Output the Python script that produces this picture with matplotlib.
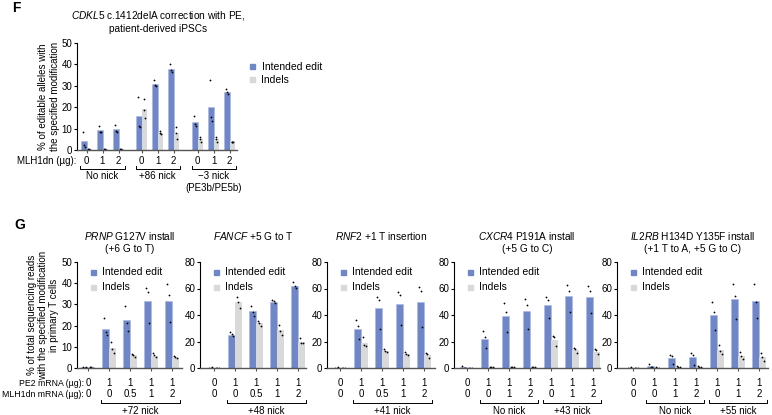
import numpy as np
import matplotlib
matplotlib.use("Agg")
import matplotlib.pyplot as plt

plt.rcParams['font.family'] = ['Liberation Sans', 'DejaVu Sans']
plt.rcParams['mathtext.fontset'] = 'custom'
plt.rcParams['mathtext.rm'] = 'Liberation Sans'
plt.rcParams['mathtext.it'] = 'Liberation Sans:italic'

BLUE = '#6f86c9'
GRAY = '#d9d9d9'

# ---- panel F data: CDKL5 correction in iPSCs ----
f_mlh = ['0', '1', '2', '0', '1', '2', '0', '1', '2']
f_groups = ['No nick', '+86 nick', '\u22123 nick\n(PE3b/PE5b)']
f_edit = [4.0, 9.3, 10.0, 15.8, 31.0, 38.0, 13.0, 20.3, 27.3]
f_indel = [0.3, 0.3, 0.3, 19.0, 8.0, 8.0, 5.0, 5.0, 4.0]
f_edit_pts = [[8.3, 2.5, 1.2], [11.2, 8.5, 8.3], [11.7, 9.0, 8.6],
              [25.0, 11.2, 10.8], [32.5, 30.5, 30.0], [40.2, 37.5, 36.3],
              [16.0, 12.0, 11.0], [32.5, 15.3, 13.4], [28.4, 26.9, 26.2]]
f_indel_pts = [[0.4, 0.3, 0.2], [0.4, 0.3, 0.2], [0.4, 0.3, 0.2],
               [23.7, 18.7, 14.8], [9.0, 7.8, 7.5], [10.6, 7.8, 5.0],
               [6.2, 5.0, 3.9], [6.2, 5.0, 3.6], [3.9, 3.6, 3.8]]

# ---- panel G data: primary T cells ----
prnp_pe2 = ['0', '1', '1', '1', '1']
prnp_mlh = ['0', '0', '0.5', '1', '2']
prnp_edit = [0.3, 18.6, 22.5, 31.5, 31.8]
prnp_indel = [0.3, 9.3, 6.1, 5.8, 4.9]
prnp_edit_pts = [[0.3, 0.2, 0.4], [23.4, 17.1, 15.6], [29.2, 21.0, 17.3],
                 [37.6, 35.7, 21.4], [39.5, 34.4, 21.5]]
prnp_indel_pts = [[0.3, 0.3, 0.2], [12.4, 8.8, 6.9], [6.8, 6.1, 5.3],
                  [6.9, 6.1, 5.2], [5.7, 5.0, 4.6]]

fancf_pe2 = ['0', '1', '1', '1', '1']
fancf_mlh = ['0', '0', '0.5', '1', '2']
fancf_edit = [0.3, 24.9, 43.0, 50.0, 62.0]
fancf_indel = [0.3, 49.6, 33.7, 28.7, 19.9]
fancf_edit_pts = [[0.3, 0.2, 0.4], [26.9, 25.4, 23.9], [47.0, 42.0, 39.2],
                  [51.3, 50.3, 49.3], [65.2, 62.1, 60.1]]
fancf_indel_pts = [[0.3, 0.2, 0.3], [53.3, 49.6, 45.0], [35.5, 33.7, 31.9],
                   [32.5, 27.9, 24.9], [22.9, 18.6, 18.6]]

rnf2_pe2 = ['0', '1', '1', '1', '1']
rnf2_mlh = ['0', '0', '0.5', '1', '2']
rnf2_edit = [0.3, 29.4, 45.0, 48.0, 50.0]
rnf2_indel = [0.3, 19.1, 12.8, 10.8, 9.8]
rnf2_edit_pts = [[0.3, 0.2, 0.4], [36.2, 31.7, 21.6], [53.8, 51.3, 29.4],
                 [57.6, 55.1, 32.5], [60.9, 58.4, 31.2]]
rnf2_indel_pts = [[0.3, 0.2, 0.3], [23.6, 17.4, 16.9], [14.3, 12.8, 11.8],
                  [12.3, 10.8, 9.8], [11.1, 10.6, 7.8]]

cxcr4_pe2 = ['0', '1', '1', '1', '1', '1', '1']
cxcr4_mlh = ['0', '0', '1', '2', '0', '1', '2']
cxcr4_edit = [0.5, 21.9, 39.5, 43.0, 47.5, 54.3, 53.6]
cxcr4_indel = [0.3, 0.5, 0.5, 0.5, 21.1, 13.6, 11.8]
cxcr4_edit_pts = [[1.3, 0.2, 0.2], [27.9, 23.1, 15.3], [48.8, 42.5, 27.4],
                  [52.0, 47.6, 29.4], [53.8, 51.6, 38.0], [62.6, 58.4, 42.5],
                  [61.9, 58.1, 41.5]]
cxcr4_indel_pts = [[0.3, 0.2, 0.3], [0.7, 0.6, 0.5], [0.7, 0.5, 0.5],
                   [0.7, 0.6, 0.5], [23.9, 23.1, 16.9], [15.3, 14.3, 11.3],
                   [14.3, 13.6, 10.6]]

il2rb_pe2 = ['0', '1', '1', '1', '1', '1', '1']
il2rb_mlh = ['0', '0', '1', '2', '0', '1', '2']
il2rb_edit = [0.3, 1.5, 7.5, 8.3, 40.0, 52.0, 50.6]
il2rb_indel = [0.3, 0.3, 1.0, 1.0, 13.6, 9.0, 8.3]
il2rb_edit_pts = [[0.3, 0.2, 0.4], [3.3, 0.8, 0.5], [10.0, 9.0, 3.0],
                  [11.1, 9.8, 2.5], [49.6, 42.0, 28.7], [63.4, 54.6, 36.7],
                  [63.4, 50.0, 38.0]]
il2rb_indel_pts = [[0.3, 0.2, 0.3], [0.4, 0.3, 0.3], [1.2, 1.0, 0.8],
                   [1.2, 1.0, 0.8], [17.4, 12.8, 10.3], [12.1, 9.1, 6.5],
                   [11.1, 8.1, 5.5]]

W, H = 772, 415
fig = plt.figure(figsize=(W / 100, H / 100), dpi=100)
FS = 7


def ax_px(l, t, r, b):
    return fig.add_axes([l / W, 1 - b / H, (r - l) / W, (b - t) / H])


def ftext(x, y, s, **kw):
    kw.setdefault('fontsize', FS)
    return fig.text(x / W, 1 - y / H, s, **kw)


def style(ax, ymax, step):
    ax.set_ylim(0, ymax)
    ax.set_yticks(np.arange(0, ymax + 1, step))
    for side in ['top', 'right']:
        ax.spines[side].set_visible(False)
    ax.spines['left'].set_linewidth(0.8)
    ax.spines['bottom'].set_linewidth(1.0)
    ax.spines['bottom'].set_color('#555555')
    ax.tick_params(axis='both', length=2.5, width=0.8, labelsize=FS, pad=0.8)
    ax.tick_params(axis='x', labelbottom=False, color='#555555')


def draw_bars(ax, pos, edit, indel, edit_pts, indel_pts, w):
    pos = np.asarray(pos)
    ax.bar(pos - w / 2, edit, width=w, color=BLUE, edgecolor='#a9b8e6', linewidth=0.4)
    ax.bar(pos + w / 2, indel, width=w, color=GRAY, linewidth=0)
    offs = np.array([-0.05, 0.0, 0.05])
    for p, ep, ip in zip(pos, edit_pts, indel_pts):
        ax.plot(p - w / 2 + offs, ep, 'o', ms=1.3, color='black', mew=0)
        ax.plot(p + w / 2 + offs, ip, 'o', ms=1.3, color='black', mew=0)
    ax.set_xticks(pos)


def bracket(ax, x0, x1, y, d=0.03):
    ax.plot([x0, x0, x1, x1], [y + d, y, y, y + d], color='black', lw=0.7,
            transform=ax.get_xaxis_transform(), clip_on=False)


def legend(ax, x0_px, y1_px, y2_px):
    for y, c, s in [(y1_px, BLUE, 'Intended edit'), (y2_px, GRAY, 'Indels')]:
        fig.patches.append(plt.Rectangle(((x0_px - 2.5) / W, 1 - (y + 2.5) / H), 5 / W, 5 / H,
                                         transform=fig.transFigure, color=c))
        ftext(x0_px + 9, y, s, fontsize=7.5, va='center', ha='left')


# ================= Panel F =================
ftext(12, 8, 'F', fontsize=10, fontweight='bold', va='center', ha='left')
ftext(158, 21, '$\\mathit{CDKL5}$ c.1412delA correction with PE,\npatient-derived iPSCs',
      ha='center', va='center', multialignment='center', linespacing=1.25, fontsize=7.3)
fax = ax_px(77, 43, 237, 150)
f_pos = np.array([0, 1, 2, 3.45, 4.45, 5.45, 6.95, 7.95, 8.95])
draw_bars(fax, f_pos, f_edit, f_indel, f_edit_pts, f_indel_pts, 0.34)
fax.set_xlim((77 - 86.5) / 16, (237 - 86.5) / 16)
style(fax, 50, 10)
ftext(49, 96.5, '% of editable alleles with\nthe specified modification', rotation=90,
      ha='center', va='center', multialignment='center', linespacing=1.25)
ftext(76, 161, 'MLH1dn (\u00b5g):', ha='right', va='center')
to_ax = lambda y: (150 - y) / 107
for p, s in zip(f_pos, f_mlh):
    fax.text(p, to_ax(161), s, ha='center', va='center', fontsize=FS,
             transform=fax.get_xaxis_transform())
for g, lab in enumerate(f_groups):
    a, b = f_pos[3 * g], f_pos[3 * g + 2]
    bracket(fax, a - 0.38, b + 0.38, to_ax(169))
    fax.text((a + b) / 2, to_ax(171), lab, ha='center', va='top', fontsize=FS,
             multialignment='center', linespacing=1.3, transform=fax.get_xaxis_transform())
legend(fax, 252.5, 67, 80)

# ================= Panel G =================
ftext(14, 225, 'G', fontsize=10, fontweight='bold', va='center', ha='left')
SP = 21.0
panels = [
    ('$\\mathit{PRNP}$ G127V install\n(+6 G to T)', 77, 182, 88, 50, 10,
     prnp_pe2, prnp_mlh, prnp_edit, prnp_indel, prnp_edit_pts, prnp_indel_pts,
     [('+72 nick', 1, 4)]),
    ('$\\mathit{FANCF}$ +5 G to T', 200, 306, 214, 80, 20,
     fancf_pe2, fancf_mlh, fancf_edit, fancf_indel, fancf_edit_pts, fancf_indel_pts,
     [('+48 nick', 1, 4)]),
    ('$\\mathit{RNF2}$ +1 T insertion', 327, 435, 340, 80, 20,
     rnf2_pe2, rnf2_mlh, rnf2_edit, rnf2_indel, rnf2_edit_pts, rnf2_indel_pts,
     [('+41 nick', 1, 4)]),
    ('$\\mathit{CXCR4}$ P191A install\n(+5 G to C)', 454, 600, 467, 80, 20,
     cxcr4_pe2, cxcr4_mlh, cxcr4_edit, cxcr4_indel, cxcr4_edit_pts, cxcr4_indel_pts,
     [('No nick', 1, 3), ('+43 nick', 4, 6)]),
    ('$\\mathit{IL2RB}$ H134D Y135F install\n(+1 T to A, +5 G to C)', 617, 768, 633, 80, 20,
     il2rb_pe2, il2rb_mlh, il2rb_edit, il2rb_indel, il2rb_edit_pts, il2rb_indel_pts,
     [('No nick', 1, 3), ('+55 nick', 4, 6)]),
]
g_to_ax = lambda y: (368 - y) / 106
for (title, l, r, p0, ymax, step, pe2, mlh, edit, indel, e_pts, i_pts, groups) in panels:
    ax = ax_px(l, 262, r, 368)
    pos = np.arange(len(edit), dtype=float)
    draw_bars(ax, pos, edit, indel, e_pts, i_pts, 0.33)
    ax.set_xlim((l - p0) / SP, (r - p0) / SP)
    style(ax, ymax, step)
    nlines = title.count('\n') + 1
    ty = 236 if nlines == 1 else 242
    ftext((l + r) / 2, ty, title, ha='center', va='center', multialignment='center',
          linespacing=1.25, fontsize=7.3)
    tr = ax.get_xaxis_transform()
    for p, s1, s2 in zip(pos, pe2, mlh):
        ax.text(p, g_to_ax(383), s1, ha='center', va='center', fontsize=FS, transform=tr)
        ax.text(p, g_to_ax(394), s2, ha='center', va='center', fontsize=FS, transform=tr)
    for lab, a, b in groups:
        bracket(ax, pos[a] - 0.38, pos[b] + 0.38, g_to_ax(403))
        ax.text((pos[a] + pos[b]) / 2, g_to_ax(411), lab, ha='center', va='center',
                fontsize=FS, transform=tr)
    legend(ax, l + 16, 272, 287)

ftext(43, 315, '% of total sequencing reads\nwith the specified modification\nin primary T cells',
      rotation=90, ha='center', va='center', multialignment='center', linespacing=1.1)
ftext(84, 383, 'PE2 mRNA (\u00b5g):', ha='right', va='center', fontsize=6.3)
ftext(84, 394, 'MLH1dn mRNA (\u00b5g):', ha='right', va='center', fontsize=6.3)

fig.savefig('out.png', dpi=100)
